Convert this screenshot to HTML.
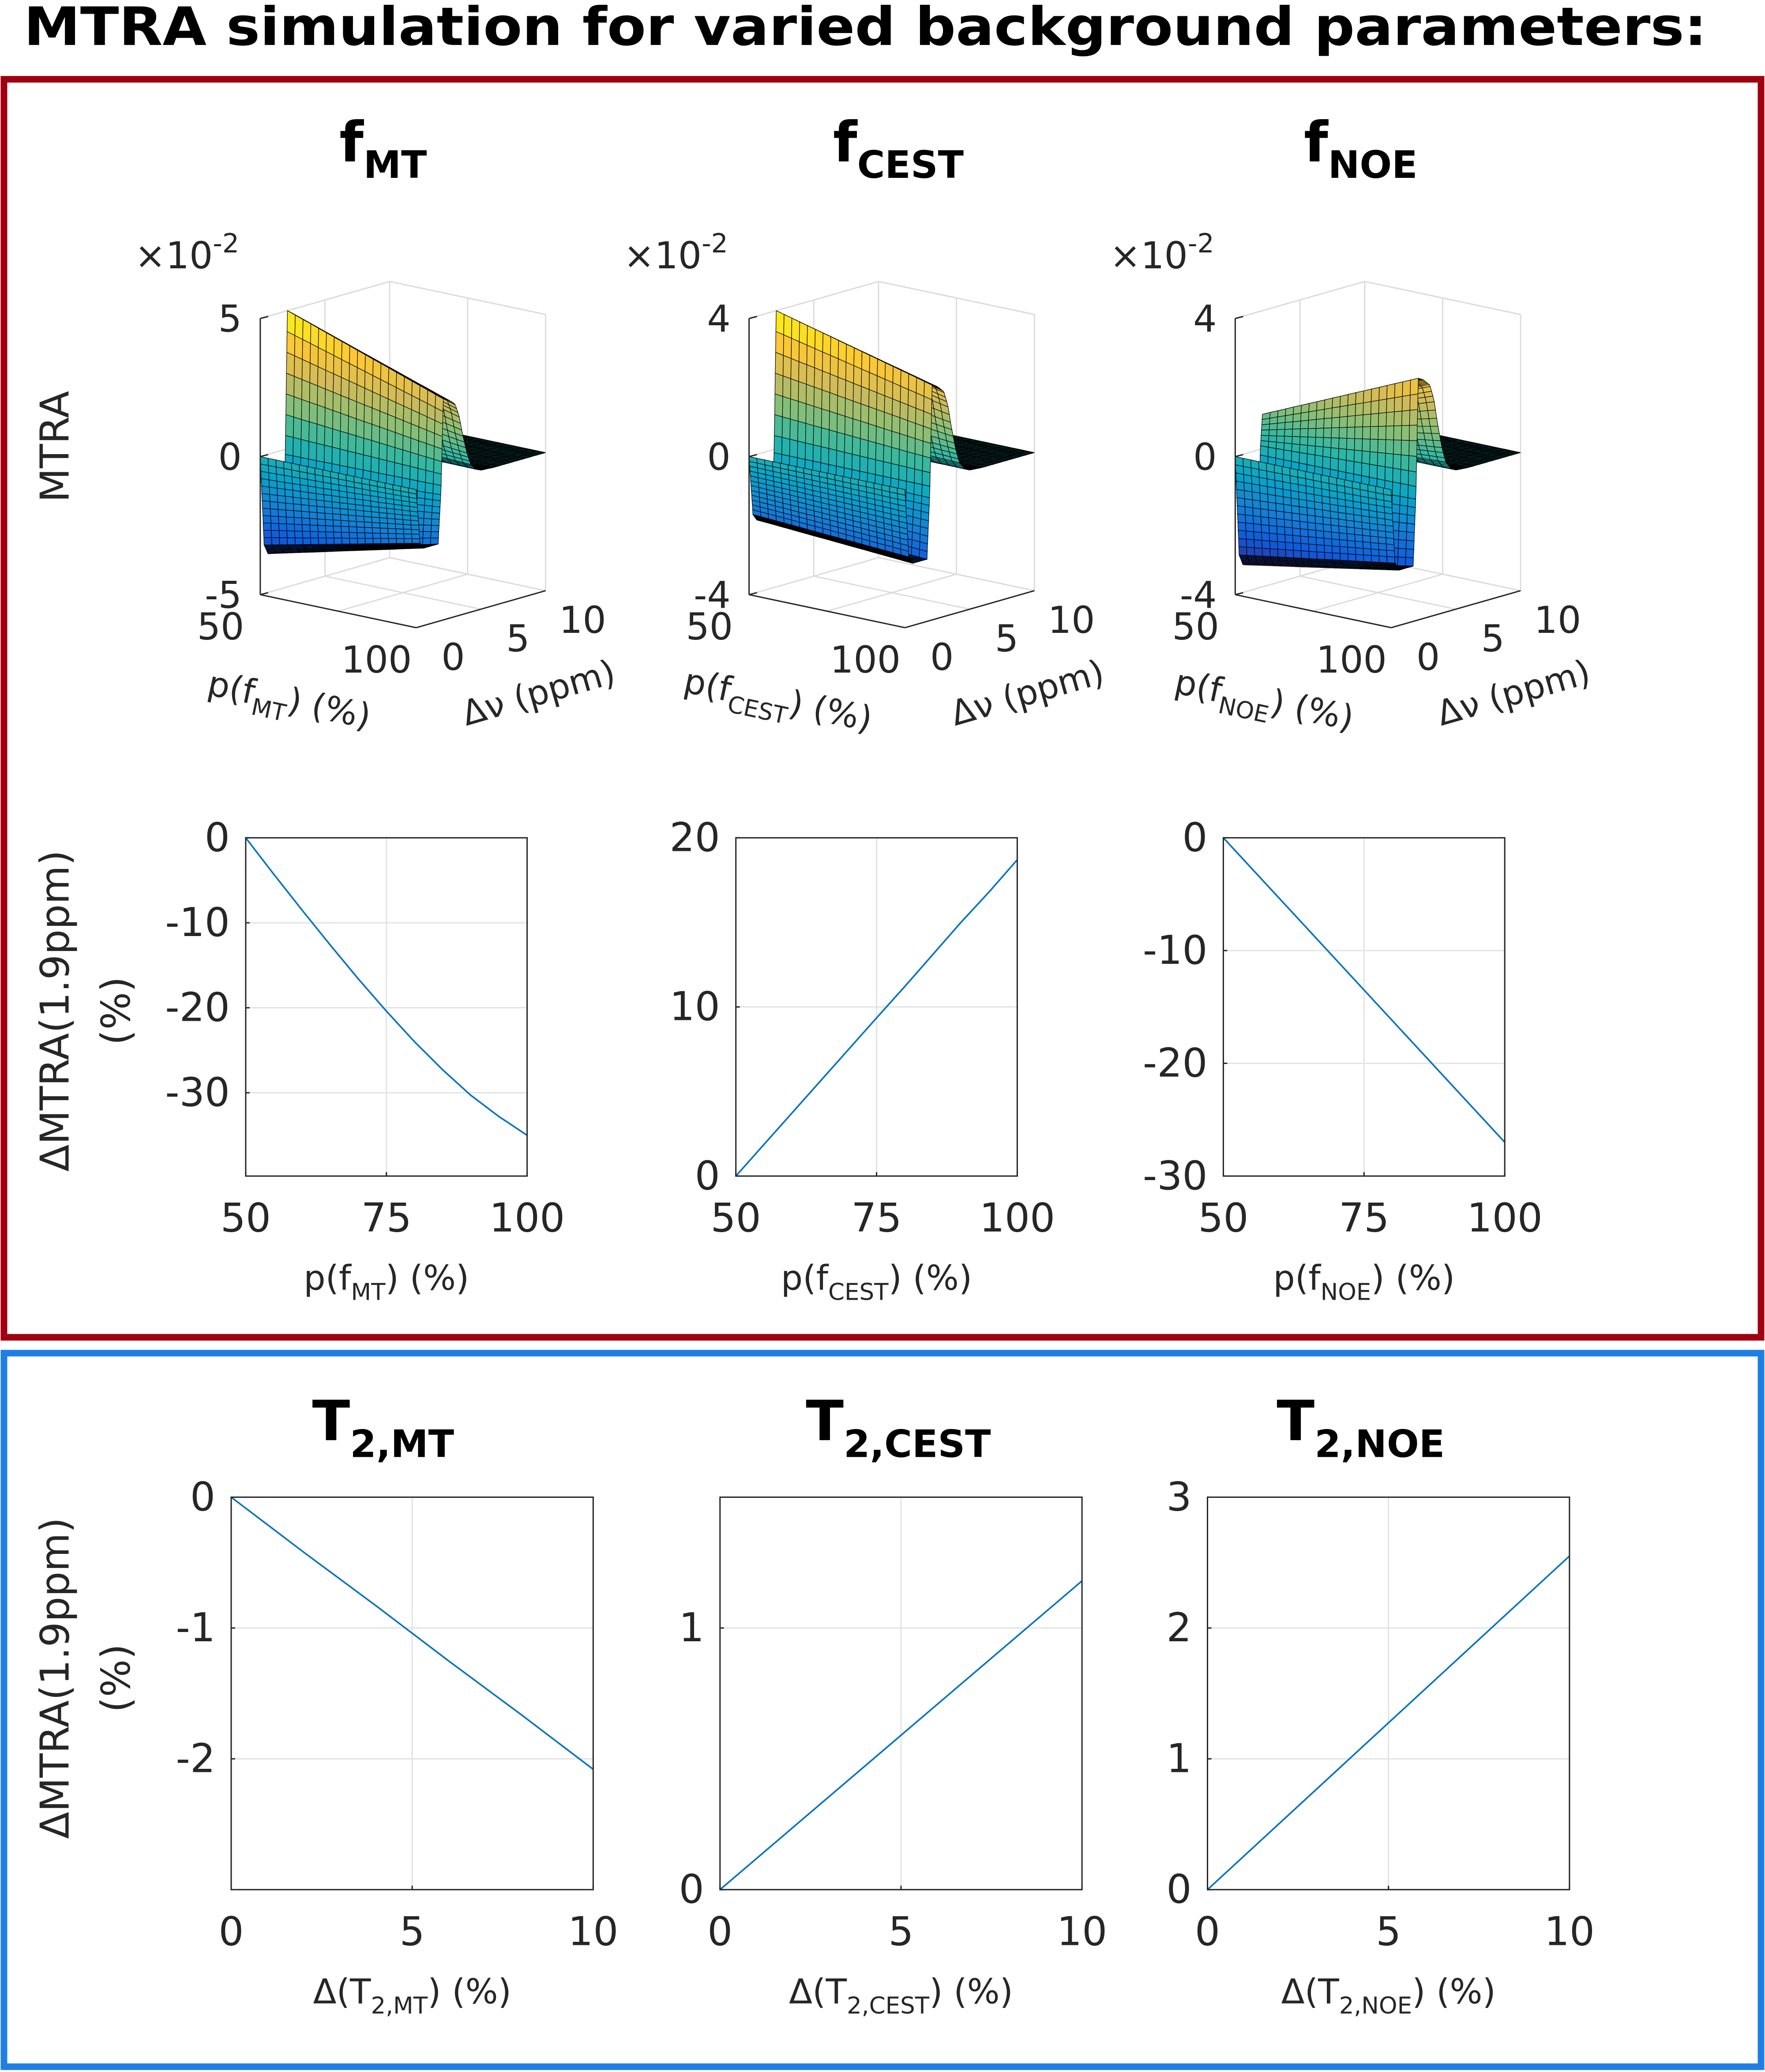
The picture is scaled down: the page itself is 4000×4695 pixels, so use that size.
<!DOCTYPE html>
<html><head><meta charset="utf-8"><style>html,body{margin:0;padding:0;background:#fff}svg{display:block}text{font-family:"DejaVu Sans","Liberation Sans",sans-serif;fill:#262626}</style></head>
<body>
<svg id="fig" width="4000" height="4695" viewBox="0 0 1336 1568" preserveAspectRatio="none" xmlns="http://www.w3.org/2000/svg">
<rect width="1336" height="1568" fill="#fff"/>
<text x="18" y="34" font-size="40" font-weight="bold" textLength="1274" lengthAdjust="spacingAndGlyphs" style="fill:#000">MTRA simulation for varied background parameters:</text>
<rect x="3" y="60" width="1330" height="952" fill="none" stroke="#a0000f" stroke-width="5"/>
<rect x="3" y="1024" width="1330" height="540" fill="none" stroke="#1f7ee6" stroke-width="5"/>
<g id="layer"></g>
</svg>
<script>
// ---------- data ----------
const dvKnots=[0,0.1,0.3,0.6,1.7,1.9,2.1,2.5,3,3.3,3.6,3.9,4.2,4.6,5,6,10];
const dvProfile=[0,-0.3,-0.9,-1,-1,-0.2,1,0.97,0.9,0.75,0.5,0.28,0.12,0.04,0.01,0,0];
const surfNames=['MT','CEST','NOE'];
const surfZlim=[5,4,4];
const surfPosAmp50=[5,4,1];
const surfPosAmp100=[3,2.8,3];
const surfNegAmp50=[3.6,1.9,3.2];
const surfNegAmp100=[2.2,2.2,2.4];

const pCats=[50,55,60,65,70,75,80,85,90,95,100];
const dMT=[0,-4.3,-8.5,-12.6,-16.6,-20.4,-24,-27.3,-30.3,-32.8,-35];
const dCEST=[0,1.87,3.74,5.61,7.48,9.35,11.2,13.1,15,16.8,18.7];
const dNOE=[0,-2.7,-5.4,-8.1,-10.8,-13.5,-16.2,-18.9,-21.6,-24.3,-27];
const tCats=[0,2,4,6,8,10];
const t2MT=[0,-0.42,-0.83,-1.25,-1.66,-2.08];
const t2CEST=[0,0.236,0.472,0.708,0.944,1.18];
const t2NOE=[0,0.51,1.02,1.53,2.04,2.55];

const NS='http://www.w3.org/2000/svg';
const L=document.getElementById('layer');
function el(t,a,p){const e=document.createElementNS(NS,t);for(const k in a)e.setAttribute(k,a[k]);(p||L).appendChild(e);return e;}
function txt(x,y,s,size,anchor,extra,p){const e=el('text',Object.assign({x:x,y:y,'font-size':size,'text-anchor':anchor||'middle'},extra||{}),p);e.innerHTML=s;return e;}
const sub=(s,fs,rest)=>{const d=(fs*0.3).toFixed(1);return `<tspan font-size="${(fs*0.68).toFixed(1)}" dy="${d}">${s}</tspan><tspan dy="-${d}">${rest}</tspan>`;};

const PAR=[[0.2081,0.1663,0.5292],[0.0592,0.3599,0.8684],[0.0780,0.5041,0.8385],[0.0232,0.6419,0.7914],[0.1802,0.7178,0.6425],[0.5301,0.7492,0.4662],[0.8186,0.7328,0.3498],[0.9956,0.7862,0.1981],[0.9763,0.9831,0.0538]];
function parula(t){t=Math.max(0,Math.min(1,t))*(PAR.length-1);const i=Math.min(PAR.length-2,Math.floor(t)),f=t-i;const c=PAR[i].map((v,k)=>Math.round(255*(v+(PAR[i+1][k]-v)*f)));return `rgb(${c})`;}

// ---------- titles ----------
const colX=[290,680,1030];
['MT','CEST','NOE'].forEach((n,i)=>{const e=txt(colX[i],122,'f'+sub(n,42,''),42,'middle',{'font-weight':'bold',style:'fill:#000'});});
['2,MT','2,CEST','2,NOE'].forEach((n,i)=>{const e=txt(colX[i],1090,'T'+sub(n,42,''),42,'middle',{'font-weight':'bold',style:'fill:#000'});});

// mesh sampling of the dv profile (rendering subdivision)
function profAt(dv){for(let k=0;k<dvKnots.length-1;k++){if(dv<=dvKnots[k+1]){const f=(dv-dvKnots[k])/(dvKnots[k+1]-dvKnots[k]);return dvProfile[k]+(dvProfile[k+1]-dvProfile[k])*f;}}return dvProfile[dvProfile.length-1];}
const dvMesh=[];
for(let d=0;d<10.0001;){dvMesh.push(+d.toFixed(3));const fine=(d<0.6)||(d>=1.7&&d<2.1);d+=fine?0.025:0.1;}
if(dvMesh[dvMesh.length-1]<10)dvMesh.push(10);

// ---------- 3D surfaces ----------
const ox3=[197,567,935];
surfNames.forEach((nm,i)=>{
  const g=el('g',{});
  
  
  const X0=ox3[i],Y0=450,zl=surfZlim[i];
  const proj=(p,dv,z)=>{const pt=(p-50)/50,dt=dv/10,zt=(z+zl)/(2*zl);return [X0+pt*118+dt*98,Y0+pt*25-dt*28-zt*209];};
  const wall=(a,b)=>el('line',{x1:a[0],y1:a[1],x2:b[0],y2:b[1],stroke:'#dcdcdc','stroke-width':1},g);
  wall(proj(50,10,-zl),proj(50,10,zl));wall(proj(50,0,zl),proj(50,10,zl));wall(proj(50,10,zl),proj(100,10,zl));
  wall(proj(50,10,-zl),proj(50,0,-zl));wall(proj(50,10,-zl),proj(100,10,-zl));wall(proj(100,10,-zl),proj(100,10,zl));
  [-zl,0,zl].forEach(z=>{wall(proj(50,0,z),proj(50,10,z));wall(proj(50,10,z),proj(100,10,z));});
  wall(proj(50,5,-zl),proj(50,5,zl));wall(proj(50,5,-zl),proj(100,5,-zl));
  wall(proj(75,10,-zl),proj(75,10,zl));wall(proj(75,10,-zl),proj(75,0,-zl));
  const ps=[];for(let p=50;p<=100.01;p+=2.5)ps.push(p);
  const Z=(p,dv)=>{const f=(p-50)/50;const pr=profAt(dv);const a=pr>=0?surfPosAmp50[i]+(surfPosAmp100[i]-surfPosAmp50[i])*f:surfNegAmp50[i]+(surfNegAmp100[i]-surfNegAmp50[i])*f;return pr*a;};
  const cells=[];
  for(let a=0;a<ps.length-1;a++)for(let j=0;j<dvMesh.length-1;j++){
    const c=[[ps[a],dvMesh[j]],[ps[a+1],dvMesh[j]],[ps[a+1],dvMesh[j+1]],[ps[a],dvMesh[j+1]]];
    const zs=c.map(q=>Z(q[0],q[1]));
    const pts=c.map((q,k)=>proj(q[0],q[1],zs[k]));
    const depth=(dvMesh[j]+dvMesh[j+1])/20-((ps[a]+ps[a+1])/2-50)/50;
    const zm=(zs[0]+zs[1]+zs[2]+zs[3])/4;
    cells.push({pts,depth,zm});
  }
  cells.sort((u,v)=>v.depth-u.depth);
  cells.forEach(c=>{const e=el('polygon',{points:c.pts.map(q=>q[0].toFixed(1)+','+q[1].toFixed(1)).join(' '),fill:parula((c.zm+zl*0.8)/(zl*1.8)),stroke:'#000','stroke-width':0.4},g);
    });
  const ax=(a,b)=>el('line',{x1:a[0],y1:a[1],x2:b[0],y2:b[1],stroke:'#262626','stroke-width':1},g);
  ax(proj(50,0,-zl),proj(100,0,-zl));ax(proj(100,0,-zl),proj(100,10,-zl));ax(proj(50,0,-zl),proj(50,0,zl));
  [zl,0,-zl].forEach(z=>{const q=proj(50,0,z);ax(q,[q[0]+6,q[1]-1.5]);const e=txt(q[0]-14,q[1]+10,String(z),28,'end',{},g);});
  [[50,'50'],[100,'100']].forEach(([p,s])=>{const q=proj(p,0,-zl);const e=txt(q[0]-30,q[1]+34,s,28,'middle',{},g);});
  [[0,'0'],[5,'5'],[10,'10']].forEach(([d,s])=>{const q=proj(100,d,-zl);const e=txt(q[0]+28,q[1]+32,s,28,'middle',{},g);});
  const e1=txt(X0-95,203,'×10<tspan font-size="20" dy="-12">-2</tspan>',28,'start',{},g);
  const q1=proj(75,0,-zl);const e2=txt(q1[0]-38,q1[1]+76,'p(f'+sub(nm,26,') (%)'),26,'middle',{transform:`rotate(12 ${q1[0]-38} ${q1[1]+72})`},g);
  const q2=proj(100,5,-zl);const e3=txt(q2[0]+45,q2[1]+72,'Δν (ppm)',26,'middle',{transform:`rotate(-16 ${q2[0]+45} ${q2[1]+68})`},g);
});
{const e=txt(52,338,'MTRA',30,'middle',{transform:'rotate(-90 52 338)'});}

// ---------- 2D line plots ----------
function linePlot(o){
  const g=el('g',{});
  
  
  const sx=v=>o.x+(v-o.xmin)/(o.xmax-o.xmin)*o.w;
  const sy=v=>o.y+o.h-(v-o.ymin)/(o.ymax-o.ymin)*o.h;
  o.xt.forEach(v=>{el('line',{x1:sx(v),y1:o.y,x2:sx(v),y2:o.y+o.h,stroke:'#e3e3e3','stroke-width':1},g);});
  o.yt.forEach(v=>{el('line',{x1:o.x,y1:sy(v),x2:o.x+o.w,y2:sy(v),stroke:'#e3e3e3','stroke-width':1},g);});
  const pl=el('polyline',{points:o.xs.map((v,k)=>sx(v)+','+sy(o.ys[k])).join(' '),fill:'none',stroke:'#0072bd','stroke-width':1.2,'stroke-linejoin':'round'},g);
  
  el('rect',{x:o.x,y:o.y,width:o.w,height:o.h,fill:'none',stroke:'#262626','stroke-width':1},g);
  o.xt.forEach(v=>{el('line',{x1:sx(v),y1:o.y+o.h,x2:sx(v),y2:o.y+o.h-3,stroke:'#262626'},g);const e=txt(sx(v),o.y+o.h+42,String(v),30,'middle',{},g);});
  o.yt.forEach(v=>{el('line',{x1:o.x,y1:sy(v),x2:o.x+3,y2:sy(v),stroke:'#262626'},g);const e=txt(o.x-12,sy(v)+10,String(v),30,'end',{},g);});
  const e=txt(o.x+o.w/2,o.y+o.h+86,o.xl,26,'middle',{},g);
}
const r2=[{x:186,ymin:-39.8,ymax:0,yt:[0,-10,-20,-30],ys:dMT,n:'MT'},{x:557,ymin:0,ymax:20,yt:[0,10,20],ys:dCEST,n:'CEST'},{x:926,ymin:-30,ymax:0,yt:[0,-10,-20,-30],ys:dNOE,n:'NOE'}];
r2.forEach(r=>linePlot({name:'line-plot-f'+r.n.toLowerCase(),x:r.x,y:634,w:213,h:256,xmin:50,xmax:100,ymin:r.ymin,ymax:r.ymax,xt:[50,75,100],yt:r.yt,xs:pCats,ys:r.ys,xl:'p(f'+sub(r.n,26,') (%)')}));
const r3=[{x:175,ymin:-3,ymax:0,yt:[0,-1,-2],ys:t2MT,n:'2,MT'},{x:545,ymin:0,ymax:1.5,yt:[0,1],ys:t2CEST,n:'2,CEST'},{x:914,ymin:0,ymax:3,yt:[0,1,2,3],ys:t2NOE,n:'2,NOE'}];
r3.forEach(r=>linePlot({name:'line-plot-t'+r.n.replace(',','-').toLowerCase(),x:r.x,y:1133,w:274,h:297,xmin:0,xmax:10,ymin:r.ymin,ymax:r.ymax,xt:[0,5,10],yt:r.yt,xs:tCats,ys:r.ys,xl:'Δ(T'+sub(r.n,26,') (%)')}));
[[765],[1270]].forEach(([cy],k)=>{
  const a=txt(52,cy,'ΔMTRA(1.9ppm)',30,'middle',{transform:`rotate(-90 52 ${cy})`});
  const b=txt(98,cy,'(%)',30,'middle',{transform:`rotate(-90 98 ${cy})`});
});
</script>
</body></html>
